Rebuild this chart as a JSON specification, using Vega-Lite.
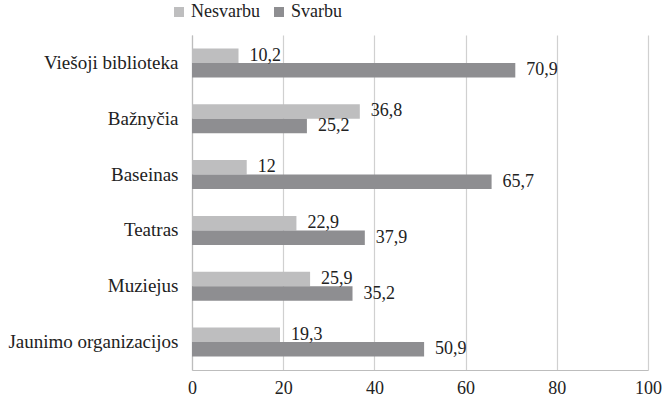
{
  "$schema": "https://vega.github.io/schema/vega-lite/v6.json",
  "width": 456,
  "height": 335,
  "autosize": {"type": "none"},
  "padding": {"left": 192, "top": 35, "right": 15, "bottom": 30},
  "background": "white",
  "config": {
    "font": "Liberation Serif",
    "view": {"stroke": null},
    "text": {"font": "Liberation Serif"},
    "axis": {"labelFont": "Liberation Serif", "labelFontSize": 18, "labelColor": "#222222", "title": null}
  },
  "data": {
    "values": [
      {"cat": "Viešoji biblioteka", "series": "Nesvarbu", "value": 10.2},
      {"cat": "Viešoji biblioteka", "series": "Svarbu", "value": 70.9},
      {"cat": "Bažnyčia", "series": "Nesvarbu", "value": 36.8},
      {"cat": "Bažnyčia", "series": "Svarbu", "value": 25.2},
      {"cat": "Baseinas", "series": "Nesvarbu", "value": 12},
      {"cat": "Baseinas", "series": "Svarbu", "value": 65.7},
      {"cat": "Teatras", "series": "Nesvarbu", "value": 22.9},
      {"cat": "Teatras", "series": "Svarbu", "value": 37.9},
      {"cat": "Muziejus", "series": "Nesvarbu", "value": 25.9},
      {"cat": "Muziejus", "series": "Svarbu", "value": 35.2},
      {"cat": "Jaunimo organizacijos", "series": "Nesvarbu", "value": 19.3},
      {"cat": "Jaunimo organizacijos", "series": "Svarbu", "value": 50.9}
    ]
  },
  "transform": [
    {"calculate": "replace(toString(datum.value), '.', ',')", "as": "label"}
  ],
  "encoding": {
    "y": {
      "field": "cat", "type": "nominal", "sort": null,
      "scale": {"paddingInner": 0.48, "paddingOuter": 0.24},
      "axis": {"ticks": false, "labelPadding": 14, "labelFont": "Liberation Serif", "labelFontSize": 19, "domainColor": "#bdbdbd", "domainWidth": 1.2}
    },
    "yOffset": {"field": "series", "type": "nominal", "sort": ["Nesvarbu", "Svarbu"]},
    "x": {
      "field": "value", "type": "quantitative",
      "scale": {"domain": [0, 100], "nice": false},
      "axis": {"values": [0, 20, 40, 60, 80, 100], "ticks": false, "labelPadding": 9, "labelFont": "Liberation Serif", "labelFontSize": 18, "grid": true, "gridColor": "#d0d0d0", "gridWidth": 1.2, "domainColor": "#bdbdbd", "domainWidth": 1.2, "labelFlush": false}
    }
  },
  "layer": [
    {
      "mark": {"type": "bar"},
      "encoding": {
        "color": {
          "field": "series", "type": "nominal",
          "scale": {"domain": ["Nesvarbu", "Svarbu"], "range": ["#bebebf", "#8e8e91"]},
          "legend": {
            "orient": "none", "direction": "horizontal", "title": null,
            "legendX": -22, "legendY": -32,
            "symbolType": "square", "symbolSize": 100, "symbolStrokeWidth": 0,
            "labelFontSize": 18, "labelColor": "#222222", "labelFont": "Liberation Serif",
            "columnPadding": 10, "labelOffset": 3
          }
        }
      }
    },
    {
      "mark": {"type": "text", "align": "left", "baseline": "middle", "dx": 11, "fontSize": 18, "color": "#222222", "font": "Liberation Serif"},
      "encoding": {"text": {"field": "label"}}
    }
  ]
}
